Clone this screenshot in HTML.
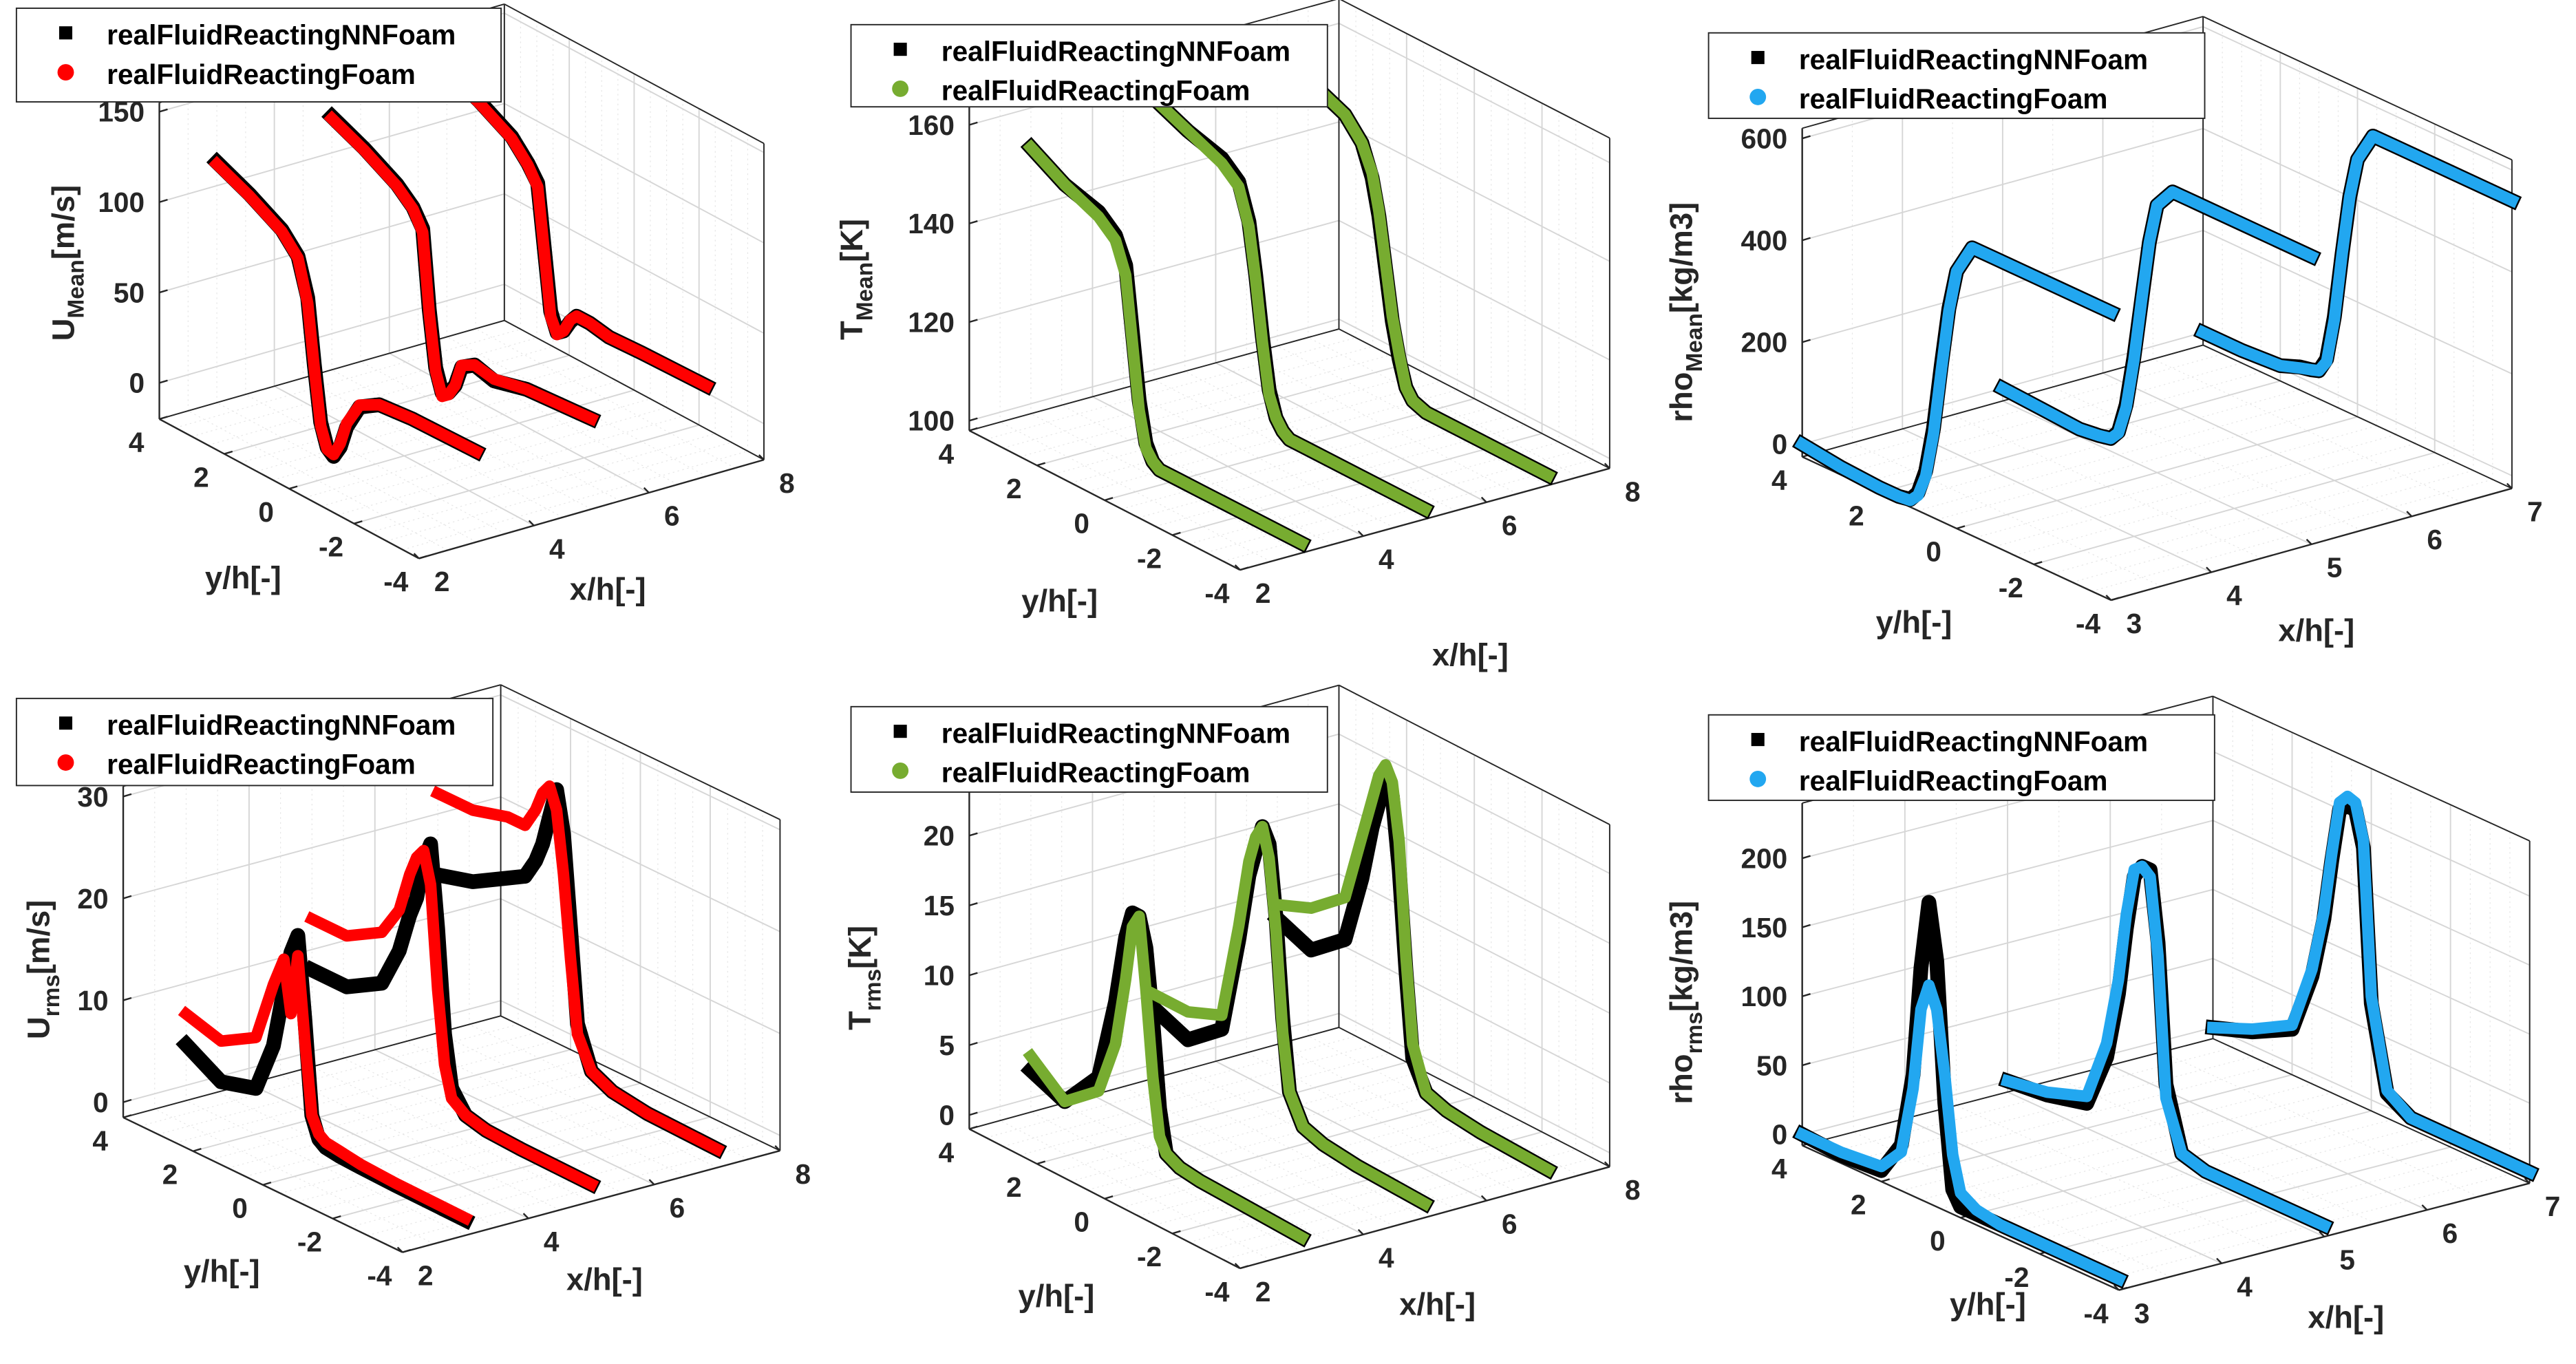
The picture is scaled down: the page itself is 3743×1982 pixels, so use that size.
<!DOCTYPE html>
<html><head><meta charset="utf-8"><style>
html,body{margin:0;padding:0;background:#fff;}
svg{display:block;font-family:"Liberation Sans",Arial,sans-serif;font-weight:bold;}
</style></head><body>
<svg id="fig" xmlns="http://www.w3.org/2000/svg" width="3743" height="1982" viewBox="0 0 1568 830" preserveAspectRatio="none"></svg>
<script>
// ---- shared y positions (y/h) of profile samples ----
const yProfile = [4,3,2,1.5,1.2,1,0.8,0.6,0.4,0.2,0,-0.4,-1,-2,-4];
const stations = [3,5,7];
const stationsRho = [3,5,7];
// ---- U mean ----
const uMeanNN   = [[113,105,95,85,65,30,0,-12,-15,-8,5,20,27,29,30],[120,112,102,94,85,42,12,0,2,8,20,25,22,27,30],[128,120,110,100,92,58,25,15,18,25,30,30,28,29,30]];
const uMeanFoam = [[112,104,94,84,62,28,-2,-13,-14,-6,7,21,27,29,30],[119,111,101,93,83,40,10,-2,1,8,21,25,23,27,30],[127,119,109,99,90,56,22,14,18,26,30,30,28,29,30]];
// ---- T mean ----
const tMeanNN   = [[152,148,146,143,138,125,112,104,101,100,100,100,100,100,100],[155,152,150,147,140,130,118,108,103,101,100,100,100,100,100],[157,155,152,148,142,135,125,115,108,103,101,100,100,100,100]];
const tMeanFoam = [[152,148,145,142,136,123,110,103,101,100,100,100,100,100,100],[155,152,149,146,139,129,117,107,103,101,100,100,100,100,100],[157,155,152,148,143,136,126,116,109,103,101,100,100,100,100]];
// ---- rho mean ----
const rhoMeanNN   = [[0,-10,-15,-15,-10,10,60,150,280,400,480,540,540,540,540],[0,-5,-10,-5,0,20,80,180,300,420,500,540,540,540,540],[0,0,5,20,25,30,60,150,280,400,480,540,540,540,540]];
const rhoMeanFoam = [[0,-10,-15,-15,-12,5,50,140,270,395,480,540,540,540,540],[0,-5,-10,-5,0,18,75,175,300,420,500,540,540,540,540],[0,0,5,18,25,30,55,145,280,400,480,540,540,540,540]];
// ---- U rms ----
const uRmsNN   = [[4,2,3,8,14,18,20,12,3,1,0.5,0.3,0.2,0.1,0],[8,8,10,14,18,20,24,26,18,8,3,1,0.5,0.3,0.2],[14,15,17,18,20,22,25,28,24,15,6,2,1,0.5,0.3]];
const uRmsFoam = [[7,6,8,14,17,12,18,10,3,1.5,1,0.8,0.5,0.3,0.2],[13,13,15,18,22,24,25,22,12,5,2,1,0.5,0.3,0.2],[22,22,23,23,25,27,28,26,20,12,5,2,1,0.5,0.3]];
// ---- T rms ----
const tRmsNN   = [[2,1,4,10,15,17,17,15,10,4,1,0.5,0.3,0.2,0],[4,3,5,12,17,19,21,20,15,8,3,1,0.5,0.2,0],[8,7,9,14,18,20,22,21,16,9,3,1,0.5,0.2,0]];
const tRmsFoam = [[3,1,3,7,12,16,17,12,6,2,1,0.5,0.3,0.2,0],[5,5,6,13,18,20,21,19,14,7,3,1,0.5,0.2,0],[9,10,12,17,20,22,23,22,18,10,4,1,0.5,0.2,0]];
// ---- rho rms ----
const rhoRmsNN   = [[0,-2,0,25,80,160,210,170,70,10,0,0,0,0,0],[0,3,10,50,100,150,190,200,200,150,50,5,0,0,0],[0,10,25,70,115,160,200,205,205,180,70,10,0,0,0]];
const rhoRmsFoam = [[0,0,3,20,70,130,150,135,90,35,10,3,0,0,0],[0,5,15,60,110,160,195,200,195,140,40,5,0,0,0],[0,12,28,75,120,165,205,212,210,185,75,12,0,0,0]];
// ---- tick labels ----
const xTicks8 = [2,4,6,8];
const xTicks7 = [3,4,5,6,7];
const yTicks = [-4,-2,0,2,4];
const zTicksU = [0,50,100,150];
const zTicksT = [100,120,140,160];
const zTicksRho = [0,200,400,600];
const zTicksUrms = [0,10,20,30];
const zTicksTrms = [0,5,10,15,20];
const zTicksRhoRms = [0,50,100,150,200];

const NS="http://www.w3.org/2000/svg";
const svg=document.getElementById('fig');
function mk(tag,attrs,parent){const e=document.createElementNS(NS,tag);for(const k in attrs)e.setAttribute(k,attrs[k]);(parent||svg).appendChild(e);return e;}

const panels=[
 {id:'u-mean',xr:[2,8],yr:[-4,4],zr:[-20,155],O:[97,255],ex:[35,-10],ey:[19.75,10.6],ez:1.1,xt:xTicks8,zt:zTicksU,xs:stations,nn:uMeanNN,fo:uMeanFoam,col:'#ff0000',zl:['U','Mean','[m/s]'],zlp:[45,160],ylp:[148,358],xlp:[370,365],leg:[10,5,295,57]},
 {id:'t-mean',xr:[2,8],yr:[-4,4],zr:[98,165],O:[590,262],ex:[37.5,-10.3],ey:[20.6,10.6],ez:3,xt:xTicks8,zt:zTicksT,xs:stations,nn:tMeanNN,fo:tMeanFoam,col:'#77ac30',zl:['T','Mean','[K]'],zlp:[525,170],ylp:[645,372],xlp:[895,405],leg:[518,15,290,50]},
 {id:'rho-mean',xr:[3,7],yr:[-4,4],zr:[-25,620],O:[1097,278],ex:[61,-17],ey:[23.5,10.9],ez:0.31,xt:xTicks7,zt:zTicksRho,xs:stationsRho,nn:rhoMeanNN,fo:rhoMeanFoam,col:'#22a7f0',zl:['rho','Mean','[kg/m3]'],zlp:[1030,190],ylp:[1165,385],xlp:[1410,390],leg:[1040,20,302,52]},
 {id:'u-rms',xr:[2,8],yr:[-4,4],zr:[-1.5,31],O:[75,680],ex:[38.3,-10.3],ey:[21.25,10.25],ez:6.2,xt:xTicks8,zt:zTicksUrms,xs:stations,nn:uRmsNN,fo:uRmsFoam,col:'#ff0000',zl:['U','rms','[m/s]'],zlp:[30,590],ylp:[135,780],xlp:[368,785],leg:[10,425,290,53]},
 {id:'t-rms',xr:[2,8],yr:[-4,4],zr:[-1,23.5],O:[590,687],ex:[37.5,-10.3],ey:[20.6,10.6],ez:8.5,xt:xTicks8,zt:zTicksTrms,xs:stations,nn:tRmsNN,fo:tRmsFoam,col:'#77ac30',zl:['T','rms','[K]'],zlp:[530,595],ylp:[643,795],xlp:[875,800],leg:[518,430,290,52]},
 {id:'rho-rms',xr:[3,7],yr:[-4,4],zr:[-8,240],O:[1097,697],ex:[62.5,-16.25],ey:[24.1,11],ez:0.84,xt:xTicks7,zt:zTicksRhoRms,xs:stationsRho,nn:rhoRmsNN,fo:rhoRmsFoam,col:'#22a7f0',zl:['rho','rms','[kg/m3]'],zlp:[1030,610],ylp:[1210,800],xlp:[1428,808],leg:[1040,435,308,52]}
];

panels.forEach(p=>{
 const g=mk('g',{});
 
 
 const P=(x,y,z)=>{const dx=x-p.xr[0],dy=p.yr[1]-y,dz=z-p.zr[0];return [p.O[0]+dx*p.ex[0]+dy*p.ey[0], p.O[1]+dx*p.ex[1]+dy*p.ey[1]-dz*p.ez];};
 const line=(a,b,st,w,dash,name)=>{const l=mk('line',{x1:a[0],y1:a[1],x2:b[0],y2:b[1],stroke:st,'stroke-width':w},g);if(dash)l.setAttribute('stroke-dasharray',dash);return l;};
 const [x0,x1]=p.xr,[y0,y1]=p.yr,[z0,z1]=p.zr;
 const xstep=(x1-x0)/((x1-x0)>4?12:8), ystep=0.5;
 for(let x=x0;x<=x1+1e-6;x+=xstep){line(P(x,y0,z0),P(x,y1,z0),'#e6e6e6',0.5,'1,2','minor-grid');line(P(x,y1,z0),P(x,y1,z1),'#e6e6e6',0.5,'1,2','minor-grid');}
 for(let y=y0;y<=y1+1e-6;y+=ystep){line(P(x0,y,z0),P(x1,y,z0),'#e6e6e6',0.5,'1,2','minor-grid');line(P(x1,y,z0),P(x1,y,z1),'#e6e6e6',0.5,'1,2','minor-grid');}
 const xmaj = p.xt, ymaj=yTicks;
 xmaj.forEach(x=>{line(P(x,y0,z0),P(x,y1,z0),'#d6d6d6',0.8,null,'grid-x');line(P(x,y1,z0),P(x,y1,z1),'#d6d6d6',0.8,null,'grid-x');});
 ymaj.forEach(y=>{line(P(x0,y,z0),P(x1,y,z0),'#d6d6d6',0.8,null,'grid-y');line(P(x1,y,z0),P(x1,y,z1),'#d6d6d6',0.8,null,'grid-y');});
 p.zt.forEach(z=>{line(P(x0,y1,z),P(x1,y1,z),'#d6d6d6',0.8,null,'grid-z');line(P(x1,y1,z),P(x1,y0,z),'#d6d6d6',0.8,null,'grid-z');});
 const ec='#262626';
 line(P(x0,y1,z0),P(x0,y1,z1),ec,1,null,'z-axis');
 line(P(x0,y1,z1),P(x1,y1,z1),ec,0.8,null,'box-edge');
 line(P(x1,y1,z1),P(x1,y0,z1),ec,0.8,null,'box-edge');
 line(P(x1,y1,z0),P(x1,y1,z1),ec,0.8,null,'box-edge');
 line(P(x1,y0,z0),P(x1,y0,z1),ec,0.8,null,'box-edge');
 line(P(x0,y1,z0),P(x1,y1,z0),ec,0.8,null,'box-edge');
 line(P(x1,y1,z0),P(x1,y0,z0),ec,0.8,null,'box-edge');
 line(P(x0,y1,z0),P(x0,y0,z0),ec,1,null,'y-axis');
 line(P(x0,y0,z0),P(x1,y0,z0),ec,1,null,'x-axis');
 p.zt.forEach(z=>{const a=P(x0,y1,z);line(a,[a[0]+5,a[1]-1.5],ec,1,null,'z-tick');const t=mk('text',{x:a[0]-9,y:a[1]+6,'text-anchor':'end','font-size':17,fill:'#262626'},g);t.textContent=z;});
 yTicks.forEach(y=>{const a=P(x0,y,z0);line(a,[a[0]+5,a[1]-1.5],ec,1,null,'y-tick');const t=mk('text',{x:a[0]-14,y:a[1]+20,'text-anchor':'middle','font-size':17,fill:'#262626'},g);t.textContent=y;});
 p.xt.forEach(x=>{const a=P(x,y0,z0);line(a,[a[0]-3,a[1]-3],ec,1,null,'x-tick');const t=mk('text',{x:a[0]+14,y:a[1]+20,'text-anchor':'middle','font-size':17,fill:'#262626'},g);t.textContent=x;});
 let t=mk('text',{x:p.ylp[0],y:p.ylp[1],'text-anchor':'middle','font-size':19,fill:'#262626'},g);t.textContent='y/h[-]';
 t=mk('text',{x:p.xlp[0],y:p.xlp[1],'text-anchor':'middle','font-size':19,fill:'#262626'},g);t.textContent='x/h[-]';
 t=mk('text',{x:0,y:0,'text-anchor':'middle','font-size':19,fill:'#262626',transform:`translate(${p.zlp[0]},${p.zlp[1]}) rotate(-90)`},g);
 
 const s1=mk('tspan',{},t);s1.textContent=p.zl[0];
 const s2=mk('tspan',{dy:6,'font-size':14},t);s2.textContent=p.zl[1];
 const s3=mk('tspan',{dy:-6},t);s3.textContent=p.zl[2];
 const drawSeries=(vals,col,w,name)=>{p.xs.forEach((xs,i)=>{const pts=yProfile.map((y,j)=>P(xs,y,vals[i][j]).map(v=>v.toFixed(1)).join(',')).join(' ');const pl=mk('polyline',{points:pts,fill:'none',stroke:col,'stroke-width':w,'stroke-linejoin':'round','stroke-linecap':'square'},g);});};
 drawSeries(p.nn,'#000',9,'nnfoam-curve');
 drawSeries(p.fo,p.col,7,'foam-curve');
 const [lx,ly,lw,lh]=p.leg;
 const lg=mk('g',{},g);
 mk('rect',{x:lx,y:ly,width:lw,height:lh,fill:'#fff',stroke:'#262626','stroke-width':0.8},lg);
 const r=mk('rect',{x:lx+26,y:ly+11,width:8,height:8,fill:'#000'},lg);
 const c=mk('circle',{cx:lx+30,cy:ly+39,r:5,fill:p.col},lg);
 t=mk('text',{x:lx+55,y:ly+22,'font-size':17,fill:'#000'},lg);t.textContent='realFluidReactingNNFoam';
 t=mk('text',{x:lx+55,y:ly+46,'font-size':17,fill:'#000'},lg);t.textContent='realFluidReactingFoam';
});
</script>
</body></html>
